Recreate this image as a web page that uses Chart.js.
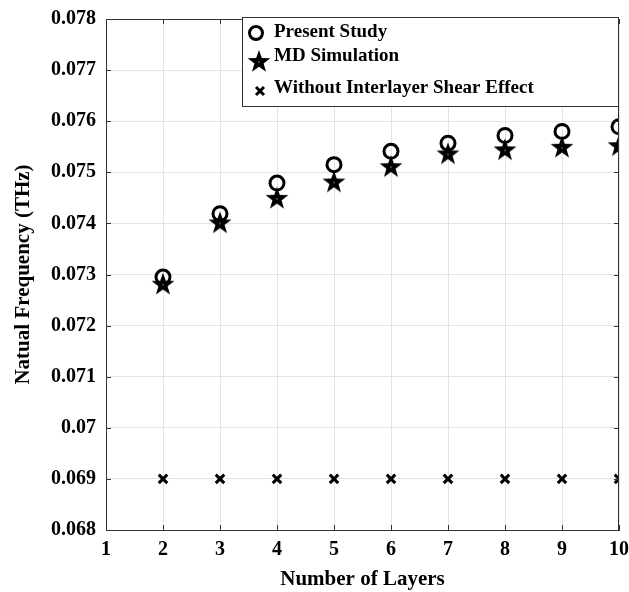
<!DOCTYPE html>
<html>
<head>
<meta charset="utf-8">
<script src="https://cdn.jsdelivr.net/npm/chart.js@4/dist/chart.umd.min.js"></script>
<style>
  html, body { margin: 0; padding: 0; background: #fff; }
  #wrap { width: 629px; height: 592px; }
</style>
</head>
<body>
<div id="wrap"><canvas id="freqChart" width="629" height="592"></canvas></div>
<script>
const layers = [2, 3, 4, 5, 6, 7, 8, 9, 10];
const presentStudy = [0.07295, 0.07419, 0.07479, 0.07515, 0.07541, 0.07557, 0.07572, 0.07580, 0.07589];
const mdSimulation = [0.07280, 0.07400, 0.07448, 0.07480, 0.07510, 0.07535, 0.07543, 0.07548, 0.07551];
const withoutShear = [0.069, 0.069, 0.069, 0.069, 0.069, 0.069, 0.069, 0.069, 0.069];
const seriesNames = ['Present Study', 'MD Simulation', 'Without Interlayer Shear Effect'];
const xTicks = [1, 2, 3, 4, 5, 6, 7, 8, 9, 10];
const yTicks = [0.068, 0.069, 0.07, 0.071, 0.072, 0.073, 0.074, 0.075, 0.076, 0.077, 0.078];

const FONT = "'Liberation Serif', 'Times New Roman', serif";
const EDGE = '#333333';

// filled five point star, like matlab's pentagram marker
function makeStar(r) {
    const size = Math.ceil(r * 2 + 2);
    const c = document.createElement('canvas');
    c.width = size;
    c.height = size;
    const g = c.getContext('2d');
    const cx = size / 2, cy = size / 2;
    const inner = r * 0.40;
    g.beginPath();
    for (let i = 0; i < 10; i++) {
        const rad = i % 2 === 0 ? r : inner;
        const a = -Math.PI / 2 + i * Math.PI / 5;
        const px = cx + rad * Math.cos(a);
        const py = cy + rad * Math.sin(a);
        if (i === 0) g.moveTo(px, py); else g.lineTo(px, py);
    }
    g.closePath();
    g.fillStyle = '#000';
    g.fill();
    g.fillStyle = '#fff';
    g.fillRect(cx - 0.5, cy - 0.5, 1, 1);
    return c;
}
const star = makeStar(12);

function toPoints(ys) {
    return layers.map((x, i) => ({ x: x, y: ys[i] }));
}

// top/right frame, inner ticks and the boxed legend
const framePlugin = {
    id: 'frame',
    afterDraw(chart) {
        const ctx = chart.ctx;
        const a = chart.chartArea;
        const xs = chart.scales.x, ys = chart.scales.y;
        ctx.save();
        ctx.strokeStyle = EDGE;
        ctx.lineWidth = 1;
        ctx.beginPath();
        ctx.moveTo(a.left, a.top + 0.5);
        ctx.lineTo(a.right - 0.5, a.top + 0.5);
        ctx.lineTo(a.right - 0.5, a.bottom);
        for (const v of xTicks) {
            const px = Math.round(xs.getPixelForValue(v)) + 0.5;
            ctx.moveTo(px, a.bottom);
            ctx.lineTo(px, a.bottom - 5);
            ctx.moveTo(px, a.top);
            ctx.lineTo(px, a.top + 5);
        }
        for (const v of yTicks) {
            const py = Math.round(ys.getPixelForValue(v)) + 0.5;
            ctx.moveTo(a.left, py);
            ctx.lineTo(a.left + 5, py);
            ctx.moveTo(a.right, py);
            ctx.lineTo(a.right - 5, py);
        }
        ctx.stroke();

        // legend
        const w = 377, h = 90;
        const lx = a.right - w, ly = a.top - 2;
        ctx.fillStyle = '#fff';
        ctx.fillRect(lx, ly, w, h);
        ctx.strokeRect(lx + 0.5, ly + 0.5, w - 1, h - 1);

        ctx.fillStyle = '#000';
        ctx.strokeStyle = '#000';
        ctx.lineWidth = 3;
        ctx.beginPath();
        ctx.arc(lx + 14, ly + 16, 6.5, 0, Math.PI * 2);
        ctx.stroke();
        ctx.drawImage(star, lx + 17 - star.width / 2, ly + 45 - star.height / 2);
        ctx.beginPath();
        ctx.moveTo(lx + 14, ly + 70);
        ctx.lineTo(lx + 22, ly + 78);
        ctx.moveTo(lx + 22, ly + 70);
        ctx.lineTo(lx + 14, ly + 78);
        ctx.stroke();

        ctx.font = 'bold 19px ' + FONT;
        ctx.textBaseline = 'middle';
        ctx.textAlign = 'left';
        ctx.fillText(seriesNames[0], lx + 32, ly + 15);
        ctx.fillText(seriesNames[1], lx + 32, ly + 39);
        ctx.fillText(seriesNames[2], lx + 32, ly + 71);
        ctx.restore();
    }
};

const ctx = document.getElementById('freqChart').getContext('2d');
new Chart(ctx, {
    type: 'scatter',
    data: {
        datasets: [{
            label: seriesNames[0],
            data: toPoints(presentStudy),
            pointStyle: 'circle',
            pointRadius: 7,
            pointBorderWidth: 3,
            borderColor: '#000',
            backgroundColor: 'rgba(0,0,0,0)',
            order: 2
        }, {
            label: seriesNames[1],
            data: toPoints(mdSimulation),
            pointStyle: star,
            borderColor: '#000',
            backgroundColor: '#000',
            order: 1
        }, {
            label: seriesNames[2],
            data: toPoints(withoutShear),
            pointStyle: 'crossRot',
            pointRadius: 6,
            pointBorderWidth: 3,
            borderColor: '#000',
            backgroundColor: '#000',
            order: 3
        }]
    },
    options: {
        responsive: false,
        animation: false,
        events: [],
        layout: { padding: 0 },
        plugins: {
            legend: { display: false },
            tooltip: { enabled: false }
        },
        scales: {
            x: {
                type: 'linear',
                min: 1,
                max: 10,
                afterBuildTicks: (scale) => { scale.ticks = xTicks.map(v => ({ value: v })); },
                afterFit: (scale) => {
                    scale.height = 62;
                    scale.paddingRight = 9;
                    scale.paddingLeft = 0;
                },
                ticks: {
                    color: '#000',
                    padding: 8,
                    maxRotation: 0,
                    font: { family: FONT, size: 20, weight: 'bold' }
                },
                grid: { color: '#e3e3e3', drawTicks: false },
                border: { color: EDGE, width: 1 },
                title: {
                    display: true,
                    text: 'Number of Layers',
                    color: '#000',
                    padding: { top: 0, bottom: 0 },
                    font: { family: FONT, size: 21, weight: 'bold' }
                }
            },
            y: {
                min: 0.068,
                max: 0.078,
                afterBuildTicks: (scale) => { scale.ticks = yTicks.map(v => ({ value: v })); },
                afterFit: (scale) => {
                    scale.width = 106;
                    scale.paddingTop = 19;
                    scale.paddingBottom = 0;
                },
                ticks: {
                    color: '#000',
                    padding: 10,
                    callback: (v) => String(Number(v.toFixed(3))),
                    font: { family: FONT, size: 20, weight: 'bold' }
                },
                grid: { color: '#e3e3e3', drawTicks: false },
                border: { color: EDGE, width: 1 },
                title: {
                    display: true,
                    text: 'Natual Frequency (THz)',
                    color: '#000',
                    padding: { top: 11, bottom: 0 },
                    font: { family: FONT, size: 21, weight: 'bold' }
                }
            }
        }
    },
    plugins: [framePlugin]
});
</script>
</body>
</html>
